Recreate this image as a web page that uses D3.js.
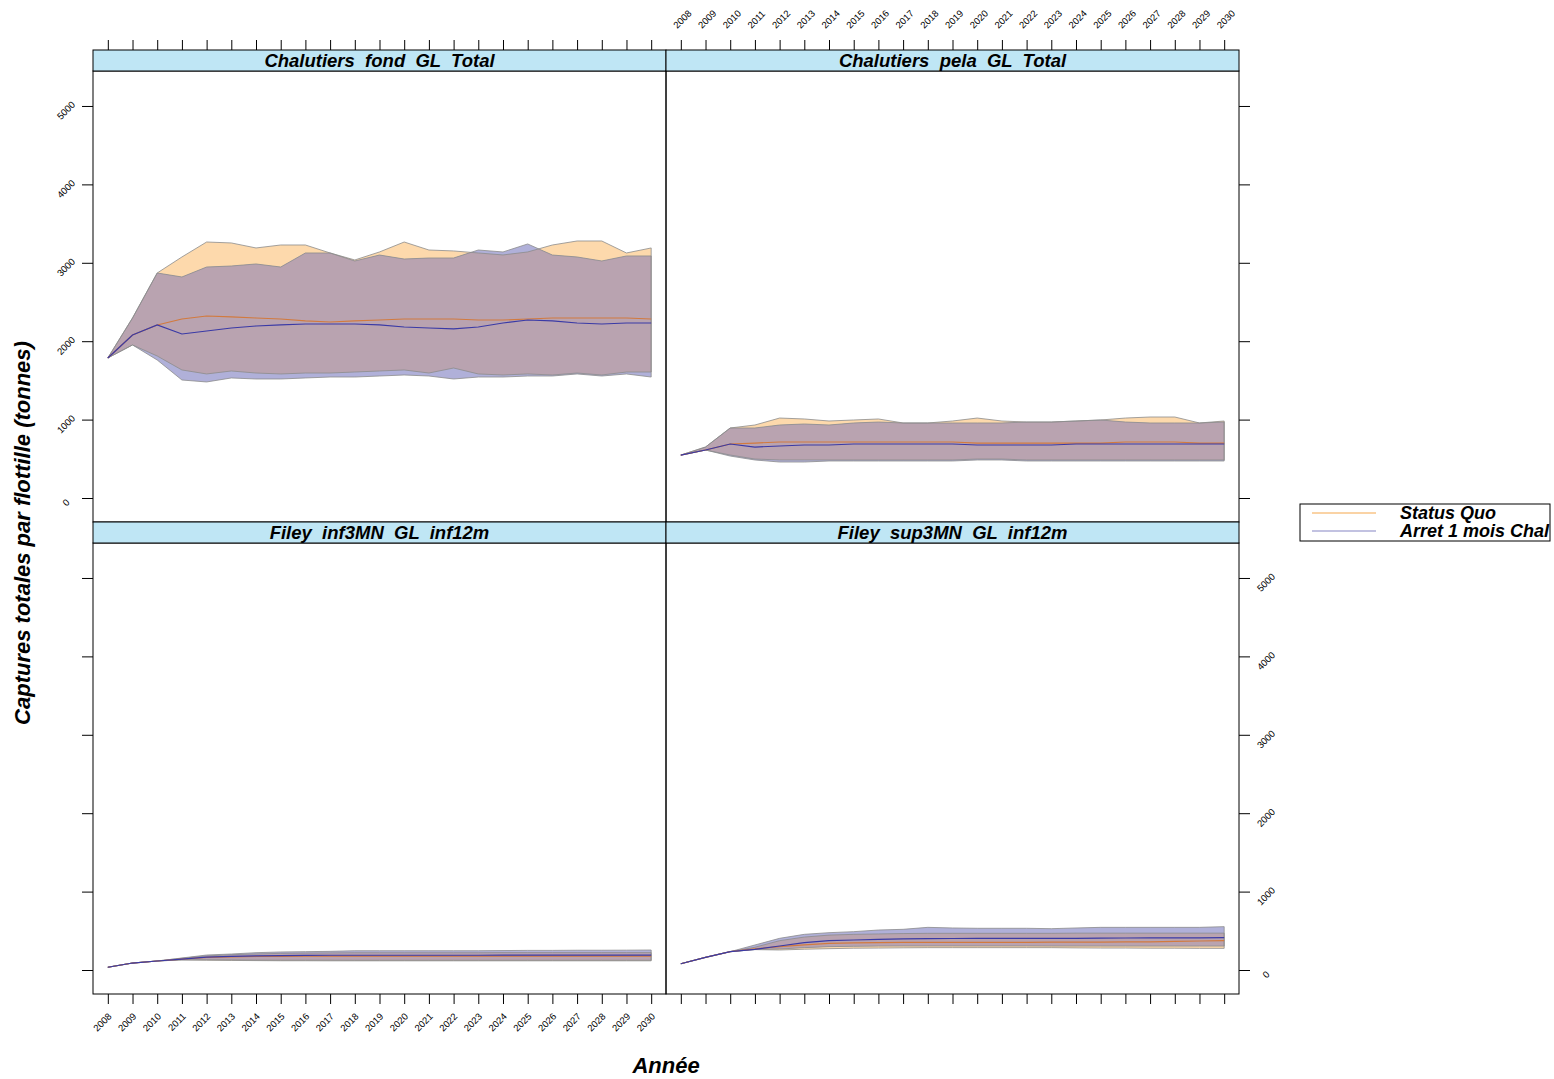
<!DOCTYPE html>
<html>
<head>
<meta charset="utf-8">
<script src="https://cdnjs.cloudflare.com/ajax/libs/d3/7.8.5/d3.min.js"></script>
<style>
  body { margin: 0; background: #fff; }
  text { font-family: "Liberation Sans", Arial, sans-serif; }
</style>
</head>
<body>
<div id="chart"></div>
<script>
/*
 * Lattice-like panel chart: captures totales par flottille
 */

// years on x axis
const years = [2008, 2009, 2010, 2011, 2012, 2013, 2014, 2015, 2016, 2017, 2018, 2019,
  2020, 2021, 2022, 2023, 2024, 2025, 2026, 2027, 2028, 2029, 2030];
const yTicks = [0, 1000, 2000, 3000, 4000, 5000];
const seriesNames = ["Status Quo", "Arret 1 mois Chal"];

// Chalutiers fond GL Total
const fondSqLo = [1786, 1952, 1811, 1633, 1582, 1620, 1594, 1582, 1594, 1594, 1607, 1620, 1633, 1594, 1658, 1582, 1569, 1582, 1569, 1594, 1569, 1607, 1607];
const fondSqMed = [1786, 2079, 2207, 2283, 2321, 2309, 2296, 2283, 2258, 2245, 2258, 2270, 2283, 2283, 2283, 2270, 2270, 2283, 2296, 2296, 2296, 2296, 2283];
const fondSqHi = [1786, 2296, 2870, 3074, 3265, 3253, 3189, 3227, 3227, 3125, 3036, 3138, 3265, 3163, 3151, 3125, 3100, 3138, 3227, 3278, 3278, 3125, 3189];
const fondArLo = [1786, 1952, 1760, 1505, 1480, 1531, 1518, 1518, 1531, 1543, 1543, 1556, 1569, 1556, 1518, 1543, 1543, 1556, 1556, 1582, 1556, 1582, 1543];
const fondArMed = [1786, 2079, 2207, 2092, 2130, 2168, 2194, 2207, 2219, 2219, 2219, 2207, 2181, 2168, 2156, 2181, 2232, 2270, 2258, 2232, 2219, 2232, 2232];
const fondArHi = [1786, 2296, 2870, 2819, 2946, 2959, 2985, 2946, 3125, 3125, 3023, 3099, 3048, 3061, 3061, 3163, 3138, 3240, 3099, 3074, 3023, 3087, 3087];

// Chalutiers pela GL Total
const pelaSqLo = [548, 612, 548, 497, 485, 485, 485, 485, 485, 485, 485, 485, 497, 497, 485, 485, 485, 485, 485, 485, 485, 485, 485];
const pelaSqMed = [548, 612, 689, 701, 714, 714, 714, 714, 714, 714, 714, 714, 701, 701, 701, 701, 701, 701, 714, 714, 714, 701, 701];
const pelaSqHi = [548, 650, 893, 931, 1020, 1008, 982, 995, 1008, 957, 957, 982, 1020, 982, 969, 969, 982, 995, 1020, 1033, 1033, 957, 982];
const pelaArLo = [548, 612, 535, 485, 459, 459, 472, 472, 472, 472, 472, 472, 485, 485, 472, 472, 472, 472, 472, 472, 472, 472, 472];
const pelaArMed = [548, 612, 689, 650, 663, 676, 676, 689, 689, 689, 689, 689, 676, 676, 676, 676, 689, 689, 689, 689, 689, 689, 689];
const pelaArHi = [548, 650, 893, 893, 931, 944, 931, 957, 969, 957, 957, 957, 957, 957, 969, 969, 982, 995, 969, 957, 957, 957, 969];

// Filey inf3MN GL inf12m
const infSqLo = [35, 89, 115, 128, 125, 122, 120, 118, 118, 117, 117, 117, 117, 117, 117, 117, 117, 117, 117, 117, 117, 117, 117];
const infSqMed = [35, 89, 115, 140, 160, 168, 172, 175, 177, 178, 178, 178, 178, 178, 178, 178, 178, 178, 178, 178, 178, 178, 178];
const infSqHi = [35, 89, 115, 150, 180, 195, 205, 212, 216, 218, 220, 220, 220, 220, 220, 220, 222, 222, 222, 222, 222, 222, 222];
const infArLo = [35, 89, 115, 130, 130, 128, 126, 125, 125, 125, 124, 124, 124, 124, 124, 124, 124, 124, 124, 124, 124, 124, 124];
const infArMed = [35, 89, 115, 140, 165, 175, 180, 184, 186, 188, 188, 188, 188, 188, 188, 188, 190, 190, 190, 190, 190, 190, 190];
const infArHi = [35, 89, 115, 153, 191, 204, 221, 230, 234, 238, 246, 246, 246, 246, 246, 246, 248, 250, 250, 252, 252, 253, 255];

// Filey sup3MN GL inf12m
const supSqLo = [80, 162, 234, 260, 255, 265, 272, 278, 280, 283, 285, 285, 285, 285, 285, 285, 282, 280, 280, 278, 278, 276, 276];
const supSqMed = [80, 162, 234, 270, 297, 320, 340, 345, 350, 353, 353, 353, 353, 353, 353, 355, 355, 355, 358, 360, 365, 370, 375];
const supSqHi = [80, 162, 234, 290, 374, 420, 445, 455, 460, 465, 468, 468, 468, 468, 468, 468, 470, 470, 470, 470, 470, 470, 470];
const supArLo = [80, 162, 234, 262, 268, 285, 298, 302, 305, 306, 306, 306, 306, 306, 306, 305, 305, 305, 305, 305, 305, 305, 305];
const supArMed = [80, 162, 234, 264, 306, 348, 374, 383, 391, 396, 400, 402, 404, 404, 404, 404, 404, 406, 408, 410, 410, 410, 412];
const supArHi = [80, 162, 234, 319, 404, 455, 476, 489, 510, 519, 544, 536, 532, 532, 532, 527, 536, 544, 544, 544, 544, 544, 553];

// panel layout (col, row) like lattice
const panels = [
  { name: "Chalutiers  fond  GL  Total", col: 0, row: 0, sq: [fondSqLo, fondSqMed, fondSqHi], ar: [fondArLo, fondArMed, fondArHi] },
  { name: "Chalutiers  pela  GL  Total", col: 1, row: 0, sq: [pelaSqLo, pelaSqMed, pelaSqHi], ar: [pelaArLo, pelaArMed, pelaArHi] },
  { name: "Filey  inf3MN  GL  inf12m", col: 0, row: 1, sq: [infSqLo, infSqMed, infSqHi], ar: [infArLo, infArMed, infArHi] },
  { name: "Filey  sup3MN  GL  inf12m", col: 1, row: 1, sq: [supSqLo, supSqMed, supSqHi], ar: [supArLo, supArMed, supArHi] }
];

// geometry
const marginLeft = 93, marginTop = 50;
const panelW = 573, stripH = 21, plotH = 451;
const rowH = stripH + plotH;

// colours
const sqFill = "#fdd9ac", arFill = "#b0b0d9", bothFill = "#b9a3b0";
const sqLine = "#d27a3e", arLine = "#3a3aa6";
const edge = "#8c8c8c";

let svg = d3.select("#chart").append("svg")
  .attr("width", 1554)
  .attr("height", 1079);

let defs = svg.append("defs");

// scales (shared by all panels)
let x = d3.scaleLinear().domain([2007.4, 2030.6]).range([0, panelW]);
let y = d3.scaleLinear().domain([-306, 5446]).range([plotH, 0]);

let area = d3.area()
  .x(function (d) { return x(d.year); })
  .y0(function (d) { return y(d.lo); })
  .y1(function (d) { return y(d.hi); });

let line = d3.line()
  .x(function (d) { return x(d.year); })
  .y(function (d) { return y(d.med); });

function rows(arr) {
  return years.map(function (yr, i) {
    return { year: yr, lo: arr[0][i], med: arr[1][i], hi: arr[2][i] };
  });
}

panels.forEach(function (p, k) {
  let px = marginLeft + p.col * panelW;
  let py = marginTop + p.row * rowH;

  let g = svg.append("g").attr("transform", "translate(" + px + "," + (py + stripH) + ")");

  let sq = rows(p.sq), ar = rows(p.ar);

  // clip with the status quo band, to colour the overlap
  defs.append("clipPath").attr("id", "clip" + k)
    .append("path").attr("d", area(sq));

  g.append("path").attr("d", area(sq)).attr("fill", sqFill);
  g.append("path").attr("d", area(ar)).attr("fill", arFill);
  g.append("path").attr("d", area(ar)).attr("fill", bothFill)
    .attr("clip-path", "url(#clip" + k + ")");

  // band outlines
  [sq, ar].forEach(function (s) {
    g.append("path").attr("d", area(s))
      .attr("fill", "none")
      .attr("stroke", edge)
      .attr("stroke-width", 1)
      .attr("stroke-opacity", 0.8);
  });

  // medians
  g.append("path").attr("d", line(sq)).attr("fill", "none").attr("stroke", sqLine).attr("stroke-width", 1.2);
  g.append("path").attr("d", line(ar)).attr("fill", "none").attr("stroke", arLine).attr("stroke-width", 1.2);

  // frame
  g.append("rect")
    .attr("width", panelW).attr("height", plotH)
    .attr("fill", "none").attr("stroke", "#000").attr("stroke-width", 1);

  // strip
  let strip = svg.append("g").attr("transform", "translate(" + px + "," + py + ")");
  strip.append("rect")
    .attr("width", panelW).attr("height", stripH)
    .attr("fill", "#bfe6f5").attr("stroke", "#000").attr("stroke-width", 1);
  strip.append("text")
    .attr("x", panelW / 2).attr("y", 17)
    .attr("text-anchor", "middle")
    .attr("font-size", "18.5px")
    .attr("font-weight", "bold")
    .attr("font-style", "italic")
    .style("white-space", "pre")
    .text(p.name);

  // x ticks: on top of top row, bottom of bottom row
  let xAxis = (p.row == 0 ? d3.axisTop(x) : d3.axisBottom(x))
    .tickValues(years).tickSize(10).tickPadding(0);
  let showX = (p.row == 0 && p.col == 1) || (p.row == 1 && p.col == 0);
  let ax = svg.append("g")
    .attr("transform", "translate(" + px + "," + (p.row == 0 ? py : py + rowH) + ")")
    .call(xAxis);
  ax.select(".domain").remove();
  ax.selectAll("line").attr("stroke", "#000");
  ax.selectAll("text").remove();
  if (showX) {
    ax.selectAll(".tick").append("text")
      .attr("transform", p.row == 0 ? "translate(-4,-21) rotate(-45)" : "translate(4,23) rotate(-45)")
      .attr("text-anchor", p.row == 0 ? "start" : "end")
      .attr("font-size", "9.5px")
      .attr("fill", "#000")
      .text(function (d) { return d; });
  }

  // y ticks: left of left column, right of right column
  let yAxis = (p.col == 0 ? d3.axisLeft(y) : d3.axisRight(y))
    .tickValues(yTicks).tickSize(11).tickPadding(0);
  let showY = (p.col == 0 && p.row == 0) || (p.col == 1 && p.row == 1);
  let ay = svg.append("g")
    .attr("transform", "translate(" + (p.col == 0 ? px : px + panelW) + "," + (py + stripH) + ")")
    .call(yAxis);
  ay.select(".domain").remove();
  ay.selectAll("line").attr("stroke", "#000");
  ay.selectAll("text").remove();
  if (showY) {
    ay.selectAll(".tick").append("text")
      .attr("transform", p.col == 0 ? "translate(-27,4) rotate(-45)" : "translate(27,4) rotate(-45)")
      .attr("text-anchor", "middle")
      .attr("dy", "0.35em")
      .attr("font-size", "9.5px")
      .attr("fill", "#000")
      .text(function (d) { return d; });
  }
});

// axis titles
svg.append("text")
  .attr("transform", "translate(30," + 533 + ") rotate(-90)")
  .attr("text-anchor", "middle")
  .attr("font-size", "22px")
  .attr("font-weight", "bold")
  .attr("font-style", "italic")
  .text("Captures totales par flottille (tonnes)");

svg.append("text")
  .attr("x", 666).attr("y", 1073)
  .attr("text-anchor", "middle")
  .attr("font-size", "22px")
  .attr("font-weight", "bold")
  .attr("font-style", "italic")
  .text("Année");

// legend
let legend = svg.append("g").attr("transform", "translate(1300,504)");
legend.append("rect")
  .attr("width", 250).attr("height", 37)
  .attr("fill", "#fff").attr("stroke", "#000").attr("stroke-width", 1);
[["#f6a84c", seriesNames[0]], ["#8585c4", seriesNames[1]]].forEach(function (s, i) {
  legend.append("line")
    .attr("x1", 12).attr("x2", 76)
    .attr("y1", 9 + i * 18).attr("y2", 9 + i * 18)
    .attr("stroke", s[0]).attr("stroke-width", 1.2);
  legend.append("text")
    .attr("x", 100).attr("y", 15 + i * 18)
    .attr("font-size", "18px")
    .attr("font-weight", "bold")
    .attr("font-style", "italic")
    .text(s[1]);
});
</script>
</body>
</html>
